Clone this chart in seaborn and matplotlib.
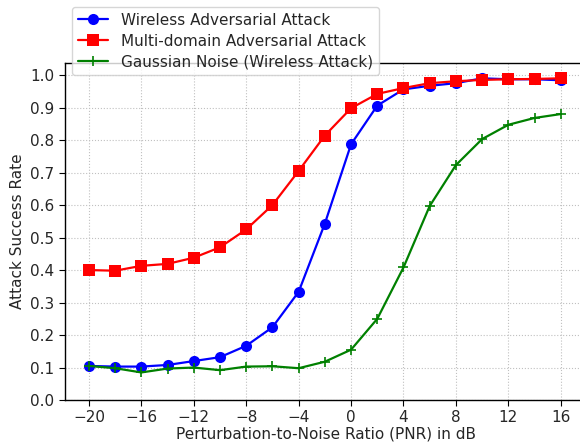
import numpy as np
import pandas as pd
import matplotlib
matplotlib.use("Agg")
import matplotlib.pyplot as plt
import seaborn as sns

# PNR values (dB)
pnr = list(range(-20, 17, 2))

wireless = [0.105, 0.103, 0.103, 0.108, 0.120, 0.132, 0.167, 0.224, 0.333, 0.543,
            0.787, 0.906, 0.956, 0.967, 0.975, 0.990, 0.987, 0.987, 0.984]
multi_domain = [0.400, 0.398, 0.413, 0.419, 0.438, 0.470, 0.525, 0.600, 0.705, 0.814,
                0.898, 0.942, 0.960, 0.975, 0.981, 0.985, 0.987, 0.988, 0.990]
gaussian = [0.105, 0.098, 0.085, 0.097, 0.100, 0.092, 0.103, 0.104, 0.098, 0.118,
            0.155, 0.250, 0.408, 0.597, 0.723, 0.803, 0.847, 0.868, 0.880]

series = [
    ("Wireless Adversarial Attack", wireless, "blue", "o"),
    ("Multi-domain Adversarial Attack", multi_domain, "red", "s"),
    ("Gaussian Noise (Wireless Attack)", gaussian, "green", "+"),
]

sns.set_style("ticks")
plt.rcParams["font.family"] = ["DejaVu Sans"]

fig = plt.figure(figsize=(5.8, 4.47), dpi=100)
ax = fig.add_axes([0.112, 0.105, 0.9, 0.754])

for name, vals, color, marker in series:
    df = pd.DataFrame({"PNR": pnr, "ASR": vals})
    sns.lineplot(data=df, x="PNR", y="ASR", ax=ax, color=color, marker=marker,
                 markersize=8 if marker != "+" else 7, linewidth=1.6,
                 markeredgewidth=1.2 if marker == "+" else 0,
                 markeredgecolor=color, label=name)

ax.set_xlim(-21.83, 18)
ax.set_ylim(0, 1.037)
ax.set_xticks(list(range(-20, 17, 4)))
ax.set_yticks(np.arange(0, 1.01, 0.1))
ax.set_yticklabels([f"{v:.1f}" for v in np.arange(0, 1.01, 0.1)])
ax.grid(True, linestyle=":", color="#c0c0c0", linewidth=0.8)
ax.tick_params(labelsize=11, direction="out", length=4, color="black")
for s in ax.spines.values():
    s.set_color("black")
    s.set_linewidth(1.0)
ax.set_xlabel("Perturbation-to-Noise Ratio (PNR) in dB", fontsize=11, labelpad=1)
ax.set_ylabel("Attack Success Rate", fontsize=11)

leg = ax.legend(loc="lower left", bbox_to_anchor=(0.013, 0.963), borderaxespad=0,
                fontsize=11, framealpha=0.8, edgecolor="#cccccc", fancybox=True,
                handlelength=2.0, labelspacing=0.38)

fig.savefig("out.png", dpi=100)
